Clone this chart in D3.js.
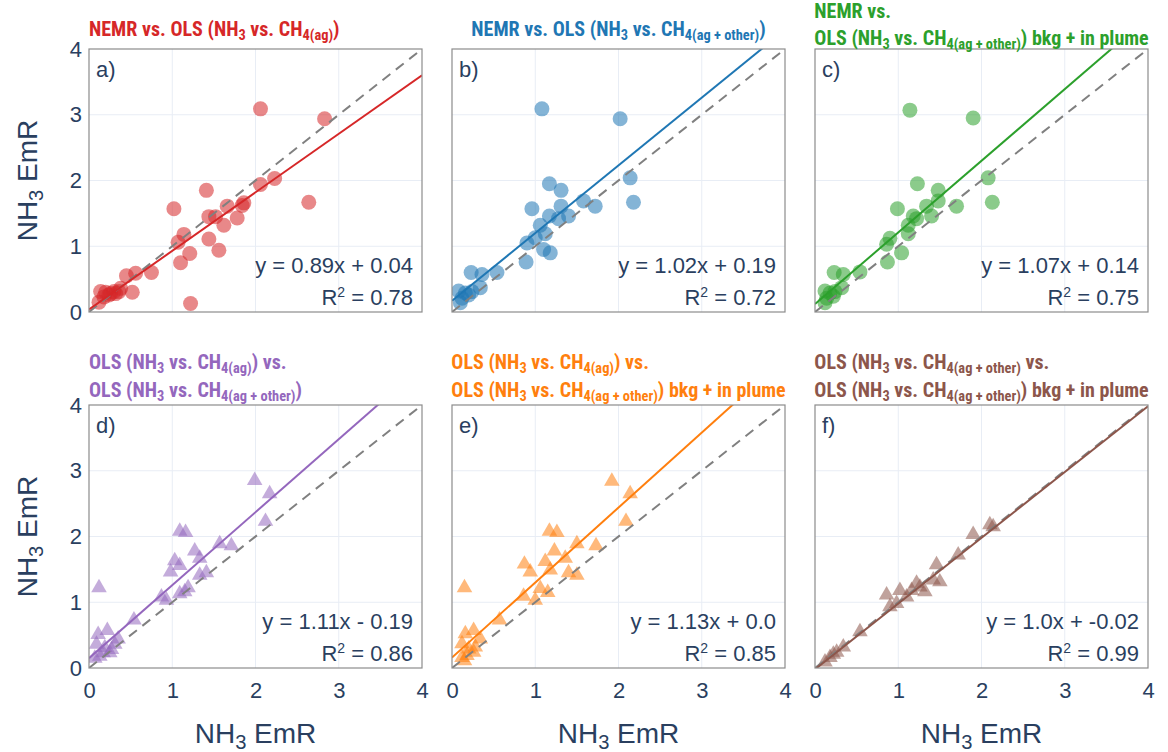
<!DOCTYPE html>
<html><head><meta charset="utf-8">
<script src="https://cdn.jsdelivr.net/npm/d3@7"></script>
<style>
body{margin:0;background:#fff;}
svg text{font-family:"Liberation Sans",Arial,sans-serif;fill:#2a3f5f;}
svg text.ttl{font-family:"Liberation Sans Narrow","Arial Narrow","Roboto Condensed",sans-serif;font-weight:bold;}
</style></head><body>
<svg id="c" width="1168" height="752"></svg>
<script>
// ---------------- data ----------------
const tickValues = [0, 1, 2, 3, 4];
const panelLabels = ["a)", "b)", "c)", "d)", "e)", "f)"];
const colors = ["#d62728", "#1f77b4", "#2ca02c", "#9467bd", "#ff7f0e", "#8c564b"];
const markerTypes = ["circle", "circle", "circle", "triangle", "triangle", "triangle"];
const eqLabels = ["y = 0.89x + 0.04", "y = 1.02x + 0.19", "y = 1.07x + 0.14",
                  "y = 1.11x - 0.19", "y = 1.13x + 0.0", "y = 1.0x + -0.02"];
const r2Labels = ["0.78", "0.72", "0.75", "0.86", "0.85", "0.99"];
// fitted lines as drawn in the picture
const lineSlopes = [0.89, 1.03, 1.09, 1.11, 1.14, 1.0];
const lineIntercepts = [0.04, 0.17, 0.12, 0.15, 0.16, -0.02];

// titles: each line is a list of [text, isSubscript]
const titles = [
  [[["NEMR vs. OLS (NH", 0], ["3", 1], [" vs. CH", 0], ["4(ag)", 1], [")", 0]]],
  [[["NEMR vs. OLS (NH", 0], ["3", 1], [" vs. CH", 0], ["4(ag + other)", 1], [")", 0]]],
  [[["NEMR vs.", 0]],
   [["OLS (NH", 0], ["3", 1], [" vs. CH", 0], ["4(ag + other)", 1], [") bkg + in plume", 0]]],
  [[["OLS (NH", 0], ["3", 1], [" vs. CH", 0], ["4(ag)", 1], [") vs.", 0]],
   [["OLS (NH", 0], ["3", 1], [" vs. CH", 0], ["4(ag + other)", 1], [")", 0]]],
  [[["OLS (NH", 0], ["3", 1], [" vs. CH", 0], ["4(ag)", 1], [") vs.", 0]],
   [["OLS (NH", 0], ["3", 1], [" vs. CH", 0], ["4(ag + other)", 1], [") bkg + in plume", 0]]],
  [[["OLS (NH", 0], ["3", 1], [" vs. CH", 0], ["4(ag + other)", 1], [" vs.", 0]],
   [["OLS (NH", 0], ["3", 1], [" vs. CH", 0], ["4(ag + other)", 1], [") bkg + in plume", 0]]]
];

const aX = [2.06,2.83,2.23,2.06,2.64,1.41,1.02,1.66,1.86,1.84,1.44,1.52,1.62,1.78,1.14,1.07,1.44,1.56,1.21,1.10,1.22,0.75,0.56,0.45,0.52,0.38,0.14,0.20,0.26,0.32,0.18,0.24,0.30,0.12,0.36];
const aY = [3.09,2.94,2.03,1.94,1.67,1.85,1.57,1.61,1.66,1.62,1.45,1.45,1.32,1.43,1.18,1.06,1.11,0.94,0.89,0.75,0.13,0.60,0.59,0.55,0.30,0.36,0.31,0.30,0.28,0.28,0.23,0.26,0.31,0.15,0.31];

const bX = [1.08,2.02,2.14,2.18,1.17,1.31,1.58,1.72,1.31,0.96,1.17,1.28,1.40,1.06,1.12,1.00,0.90,1.10,1.18,0.89,0.54,0.36,0.23,0.34,0.08,0.16,0.24,0.12,0.10,0.20];
const bY = [3.09,2.94,2.04,1.67,1.95,1.85,1.69,1.61,1.61,1.57,1.46,1.42,1.46,1.32,1.19,1.13,1.05,0.95,0.90,0.76,0.60,0.57,0.60,0.37,0.32,0.29,0.31,0.21,0.14,0.26];

const cX = [1.14,1.90,2.08,2.13,1.23,1.48,1.34,1.48,1.70,0.99,1.18,1.22,1.40,1.12,1.12,0.90,0.86,1.04,0.87,0.54,0.34,0.23,0.32,0.12,0.18,0.24,0.14,0.12,0.22];
const cY = [3.07,2.95,2.04,1.67,1.95,1.85,1.61,1.69,1.61,1.57,1.46,1.42,1.46,1.32,1.19,1.12,1.03,0.90,0.76,0.61,0.57,0.60,0.37,0.32,0.29,0.31,0.21,0.14,0.24];

const dX = [1.99,2.17,2.12,1.09,1.16,1.57,1.71,1.27,1.03,1.33,1.09,0.98,1.33,1.41,1.15,1.19,0.87,0.93,1.09,0.12,0.54,0.11,0.22,0.35,0.09,0.19,0.27,0.17,0.07,0.13,0.25,0.31];
const dY = [2.85,2.65,2.23,2.08,2.06,1.89,1.86,1.78,1.63,1.67,1.56,1.46,1.41,1.45,1.16,1.22,1.08,1.03,1.13,1.22,0.73,0.51,0.57,0.44,0.36,0.31,0.28,0.23,0.15,0.18,0.23,0.36];

const eX = [1.92,2.14,2.09,1.17,1.26,1.50,1.73,1.23,0.87,1.12,1.36,0.94,1.18,1.40,1.50,1.06,1.15,0.86,1.00,0.15,0.57,0.16,0.26,0.34,0.12,0.20,0.26,0.12,0.18,0.28,0.15];
const eY = [2.84,2.65,2.23,2.08,2.06,1.89,1.86,1.78,1.58,1.62,1.67,1.46,1.49,1.45,1.41,1.21,1.15,1.09,1.03,1.22,0.73,0.52,0.57,0.44,0.37,0.29,0.24,0.16,0.19,0.32,0.11];

const fX = [2.10,2.14,1.90,1.72,1.46,1.50,1.42,1.22,1.16,1.02,0.86,1.10,0.90,0.98,0.54,0.34,0.26,0.18,0.12,0.22,1.26,1.32];
const fY = [2.18,2.15,2.03,1.72,1.57,1.31,1.34,1.29,1.18,1.18,1.11,1.08,0.93,0.98,0.55,0.32,0.24,0.16,0.09,0.21,1.23,1.16];

const seriesX = [aX, bX, cX, dX, eX, fX];
const seriesY = [aY, bY, cY, dY, eY, fY];

// ---------------- layout ----------------
const colLeft = [89, 452, 815];
const rowTop = [49, 405];
const W = 333, H = 263;
const textColor = "#2a3f5f";
const titleSize = 20;

const svg = d3.select("#c");
const x = d3.scaleLinear().domain([0, 4]).range([0, W]);
const y = d3.scaleLinear().domain([0, 4]).range([H, 0]);

function richText(sel, segs, size) {
  segs.forEach(([t, sub]) => {
    const ts = sel.append("tspan").text(t);
    if (sub) ts.attr("font-size", size * 0.72).attr("baseline-shift", "-28%");
  });
}

for (let i = 0; i < 6; i++) {
  const col = i % 3, row = Math.floor(i / 3);
  const g = svg.append("g").attr("transform", `translate(${colLeft[col]},${rowTop[row]})`);
  const clipId = "clip" + i;
  g.append("clipPath").attr("id", clipId).append("rect").attr("width", W).attr("height", H);

  // grid
  g.selectAll(".gx").data(tickValues.slice(1, 4)).join("line")
    .attr("x1", d => x(d)).attr("x2", d => x(d)).attr("y1", 0).attr("y2", H)
    .attr("stroke", "#e8edf5").attr("stroke-width", 1);
  g.selectAll(".gy").data(tickValues.slice(1, 4)).join("line")
    .attr("y1", d => y(d)).attr("y2", d => y(d)).attr("x1", 0).attr("x2", W)
    .attr("stroke", "#e8edf5").attr("stroke-width", 1);

  const plot = g.append("g").attr("clip-path", `url(#${clipId})`);

  // points
  const pts = seriesX[i].map((v, k) => [v, seriesY[i][k]]);
  if (markerTypes[i] === "circle") {
    plot.selectAll("circle").data(pts).join("circle")
      .attr("cx", d => x(d[0])).attr("cy", d => y(d[1])).attr("r", 7.5)
      .attr("fill", colors[i]).attr("fill-opacity", 0.55);
  } else {
    const sym = d3.symbol().type(d3.symbolTriangle).size(105);
    plot.selectAll("path.pt").data(pts).join("path").attr("class", "pt")
      .attr("d", sym).attr("transform", d => `translate(${x(d[0])},${y(d[1])})`)
      .attr("fill", colors[i]).attr("fill-opacity", 0.55);
  }

  // 1:1 line
  plot.append("line").attr("x1", x(0)).attr("y1", y(0)).attr("x2", x(4)).attr("y2", y(4))
    .attr("stroke", "#808080").attr("stroke-width", 2).attr("stroke-dasharray", "10,7");
  // fit line
  const fx = [0, 4];
  plot.append("line")
    .attr("x1", x(fx[0])).attr("y1", y(lineSlopes[i] * fx[0] + lineIntercepts[i]))
    .attr("x2", x(fx[1])).attr("y2", y(lineSlopes[i] * fx[1] + lineIntercepts[i]))
    .attr("stroke", colors[i]).attr("stroke-width", 2);

  // border
  g.append("rect").attr("width", W).attr("height", H).attr("fill", "none")
    .attr("stroke", "#8c8c8c").attr("stroke-width", 1.2);

  // panel label
  g.append("text").attr("x", 7).attr("y", 28).attr("font-size", 22).text(panelLabels[i]);

  // equation
  g.append("text").attr("x", W - 9).attr("y", 224).attr("text-anchor", "end")
    .attr("font-size", 22).text(eqLabels[i]);
  const r2 = g.append("text").attr("x", W - 9).attr("y", 256).attr("text-anchor", "end")
    .attr("font-size", 22);
  r2.append("tspan").text("R");
  r2.append("tspan").text("2").attr("font-size", 14).attr("baseline-shift", "super");
  r2.append("tspan").text(" = " + r2Labels[i]);

  // y tick labels on first column
  if (col === 0) {
    const ya = d3.axisLeft(y).tickValues(tickValues).tickSize(0).tickPadding(7).tickFormat(d3.format("d"));
    const yg = g.append("g").call(ya);
    yg.select(".domain").remove();
    yg.selectAll("text").attr("font-size", 22).attr("fill", textColor)
      .style("font-family", "Liberation Sans, Arial, sans-serif");
  }
  // x tick labels on bottom row
  if (row === 1) {
    const xa = d3.axisBottom(x).tickValues(tickValues).tickSize(0).tickPadding(14).tickFormat(d3.format("d"));
    const xg = g.append("g").attr("transform", `translate(0,${H})`).call(xa);
    xg.select(".domain").remove();
    xg.selectAll("text").attr("font-size", 22).attr("fill", textColor)
      .style("font-family", "Liberation Sans, Arial, sans-serif");
  }

  // title
  const lines = titles[i];
  const tg = g.append("g");
  const lastBase = lines.length === 1 ? -13 : (row === 0 ? -4 : -8);
  const lineGap = row === 0 ? 27 : 28;
  lines.forEach((ln, k) => {
    const t = tg.append("text").attr("class", "ttl").attr("font-size", titleSize)
      .style("fill", colors[i])
      .attr("y", lastBase - (lines.length - 1 - k) * lineGap);
    richText(t, ln, titleSize);
  });
  // horizontal placement: first column left-aligned, others block centered
  if (col !== 0) {
    const bb = tg.node().getBBox();
    tg.attr("transform", `translate(${W / 2 - bb.width / 2 - bb.x},0)`);
  }
}

// axis titles
function axisTitle(xp, yp, rot) {
  const t = svg.append("text").attr("font-size", 28).attr("text-anchor", "middle")
    .attr("transform", `translate(${xp},${yp}) rotate(${rot})`);
  richText(t, [["NH", 0], ["3", 1], [" EmR", 0]], 28);
}
colLeft.forEach(cx => axisTitle(cx + W / 2, 743, 0));
rowTop.forEach(ry => axisTitle(37, ry + H / 2, -90));
</script>
</body></html>
